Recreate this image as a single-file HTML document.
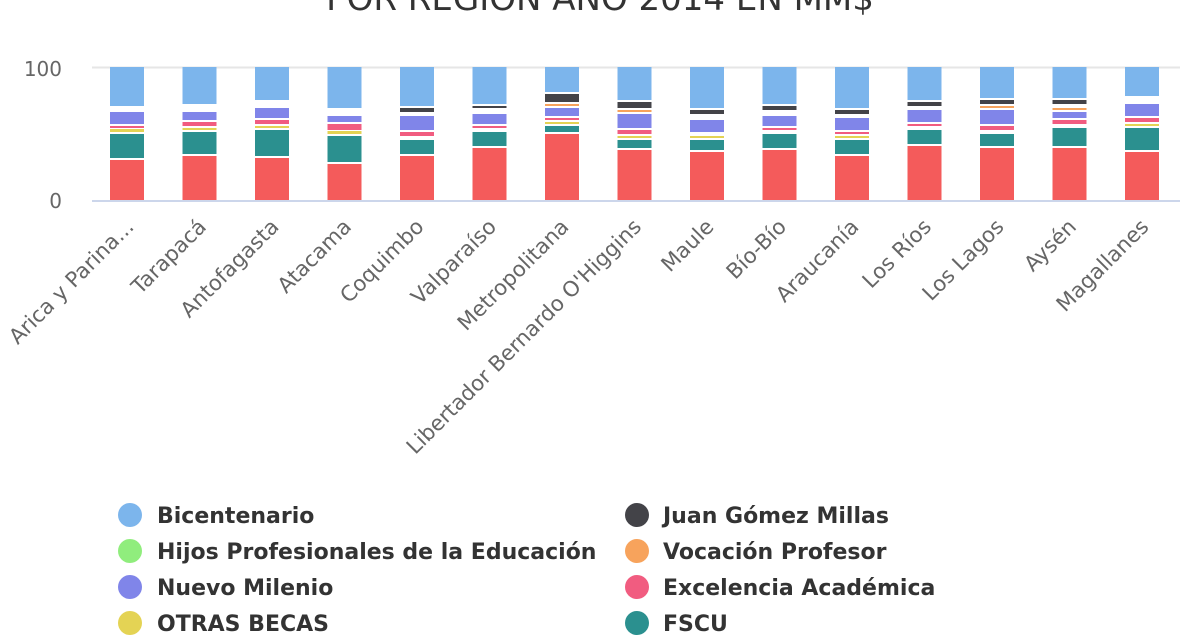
<!DOCTYPE html>
<html><head><meta charset="utf-8"><style>
html,body{margin:0;padding:0;background:#fff;width:1200px;height:640px;overflow:hidden}
svg{display:block;font-family:"DejaVu Sans","Liberation Sans",sans-serif}
</style></head><body>
<svg width="1200" height="640" viewBox="0 0 1200 640" xmlns="http://www.w3.org/2000/svg">
<text x="600" y="10" text-anchor="middle" font-size="34" fill="#333">POR REGIÓN AÑO 2014 EN MM$</text>
<line x1="92" y1="67.5" x2="1180" y2="67.5" stroke="#e6e6e6" stroke-width="2"/>
<text x="62" y="76" text-anchor="end" font-size="20" fill="#666">100</text>
<text x="62" y="208" text-anchor="end" font-size="20" fill="#666">0</text>
<g id="bars"></g>
<line x1="92" y1="201" x2="1180" y2="201" stroke="#ccd6eb" stroke-width="2"/>
<g id="labels" font-size="21.2" fill="#666"></g>
<g font-size="22" font-weight="bold" fill="#333">
<circle cx="130" cy="515" r="12" fill="#7cb5ec"/><text x="157" y="523">Bicentenario</text>
<circle cx="130" cy="551" r="12" fill="#90ed7d"/><text x="157" y="559">Hijos Profesionales de la Educación</text>
<circle cx="130" cy="587" r="12" fill="#8085e9"/><text x="157" y="595">Nuevo Milenio</text>
<circle cx="130" cy="623" r="12" fill="#e4d354"/><text x="157" y="631">OTRAS BECAS</text>
<circle cx="637" cy="515" r="12" fill="#434348"/><text x="663" y="523">Juan Gómez Millas</text>
<circle cx="637" cy="551" r="12" fill="#f7a35c"/><text x="663" y="559">Vocación Profesor</text>
<circle cx="637" cy="587" r="12" fill="#f15c80"/><text x="663" y="595">Excelencia Académica</text>
<circle cx="637" cy="623" r="12" fill="#2b908f"/><text x="663" y="631">FSCU</text>
</g>
</svg>
<script>
var C={b:"#7cb5ec",k:"#434348",o:"#f7a35c",p:"#8085e9",i:"#f15c80",y:"#e4d354",t:"#2b908f",r:"#f45b5b"};
var D=[
[["b",67,106],["p",112,124],["i",126,128],["y",129,132],["t",134,158],["r",160,200]],
[["b",67,104],["p",112,120],["i",122,126],["y",128,130],["t",132,154],["r",156,200]],
[["b",67,100],["p",108,118],["i",120,124],["y",126,128],["t",130,156],["r",158,200]],
[["b",67,108],["p",116,122],["i",124,130],["y",131,134],["t",136,162],["r",164,200]],
[["b",67,106],["k",108,112],["p",116,130],["i",132,136],["t",140,154],["r",156,200]],
[["b",67,104],["k",106,108],["p",114,124],["i",126,128],["t",132,146],["r",148,200]],
[["b",67,92],["k",94,102],["o",104,106],["p",108,116],["i",118,120],["y",122,124],["t",126,132],["r",134,200]],
[["b",67,100],["k",102,108],["o",110,112],["p",114,128],["i",130,134],["y",136,138],["t",140,148],["r",150,200]],
[["b",67,108],["k",110,114],["p",120,132],["y",136,138],["t",140,150],["r",152,200]],
[["b",67,104],["k",106,110],["p",116,126],["i",128,130],["t",134,148],["r",150,200]],
[["b",67,108],["k",110,114],["p",118,130],["i",132,134],["y",136,138],["t",140,154],["r",156,200]],
[["b",67,100],["k",102,106],["p",110,122],["i",124,126],["t",130,144],["r",146,200]],
[["b",67,98],["k",100,104],["o",106,108],["p",110,124],["i",126,130],["t",134,146],["r",148,200]],
[["b",67,98],["k",100,104],["o",108,110],["p",112,118],["i",120,124],["t",128,146],["r",148,200]],
[["b",67,96],["p",104,116],["i",118,122],["y",124,126],["t",128,150],["r",152,200]]];
var L=["Arica y Parina...","Tarapacá","Antofagasta","Atacama","Coquimbo","Valparaíso","Metropolitana","Libertador Bernardo O'Higgins","Maule","Bío-Bío","Araucanía","Los Ríos","Los Lagos","Aysén","Magallanes"];
var ns="http://www.w3.org/2000/svg",g=document.getElementById("bars"),lg=document.getElementById("labels");
D.forEach(function(bar,i){var cx=127+i*72.5;bar.forEach(function(s){var r=document.createElementNS(ns,"rect");r.setAttribute("x",cx-17);r.setAttribute("y",s[1]);r.setAttribute("width",34);r.setAttribute("height",s[2]-s[1]);r.setAttribute("fill",C[s[0]]);g.appendChild(r);});
var t=document.createElementNS(ns,"text");t.setAttribute("text-anchor","end");t.setAttribute("transform","translate("+(cx+8)+",228) rotate(-45)");t.textContent=L[i];lg.appendChild(t);});
</script>
</body></html>
